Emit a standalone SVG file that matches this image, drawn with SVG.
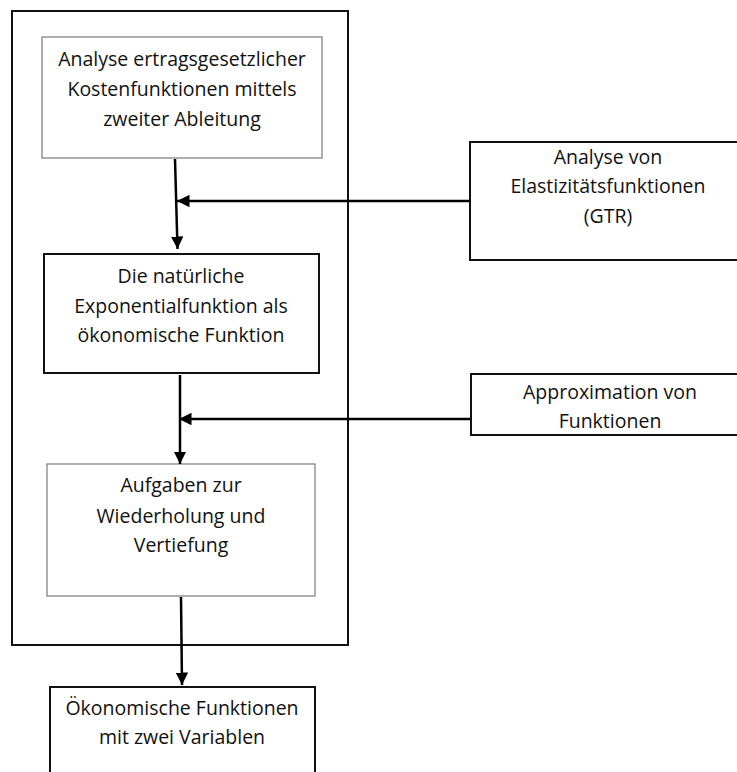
<svg xmlns="http://www.w3.org/2000/svg" width="737" height="772" viewBox="0 0 737 772">
<defs>
<style>
text{font-family:"Open Sans","Liberation Sans",sans-serif;font-size:19.5px;fill:#111;text-anchor:middle}
.thin{fill:#fff;stroke:#7a7a7a;stroke-width:1.2}
.bold{fill:#fff;stroke:#111;stroke-width:2}
.con{stroke:#000;stroke-width:2.5;fill:none}
</style>
<marker id="ah" viewBox="0 0 10 10" refX="10" refY="5" markerWidth="5" markerHeight="5" markerUnits="strokeWidth" orient="auto">
<path d="M0,0 L10,5 L0,10 z" fill="#000"/>
</marker>
</defs>
<rect width="737" height="772" fill="#fff"/>
<g id="outer"><rect x="12" y="11" width="336" height="634" fill="none" stroke="#111" stroke-width="2"/></g>
<g id="n1"><rect class="thin" x="42" y="37" width="280" height="121"/>
<text x="182" y="66">Analyse ertragsgesetzlicher</text><text x="182" y="96">Kostenfunktionen mittels</text><text x="182" y="126">zweiter Ableitung</text></g>
<g id="n2"><rect class="bold" x="44" y="254" width="275" height="119"/>
<text x="181" y="283">Die natürliche</text><text x="181" y="313">Exponentialfunktion als</text><text x="181" y="342">ökonomische Funktion</text></g>
<g id="n3"><rect class="thin" x="47" y="464" width="268" height="132"/>
<text x="181" y="492">Aufgaben zur</text><text x="181" y="523">Wiederholung und</text><text x="181" y="552">Vertiefung</text></g>
<g id="n4"><rect class="bold" x="50" y="687" width="265" height="110"/>
<text x="182" y="715">Ökonomische Funktionen</text><text x="182" y="744">mit zwei Variablen</text></g>
<g id="r1"><rect class="bold" x="470" y="142" width="280" height="118"/>
<text x="608" y="164">Analyse von</text><text x="608" y="193">Elastizitätsfunktionen</text><text x="608" y="223">(GTR)</text></g>
<g id="r2"><rect class="bold" x="471" y="374" width="279" height="61"/>
<text x="610" y="399">Approximation von</text><text x="610" y="428">Funktionen</text></g>
<g id="connectors">
<path class="con" d="M175,159 L177.5,249" marker-end="url(#ah)"/>
<path class="con" d="M470,201 L177,201" marker-end="url(#ah)"/>
<path class="con" d="M180,375 L180,464" marker-end="url(#ah)"/>
<path class="con" d="M471,419 L179,419" marker-end="url(#ah)"/>
<path class="con" d="M181,597 L182,685" marker-end="url(#ah)"/>
</g>
</svg>
